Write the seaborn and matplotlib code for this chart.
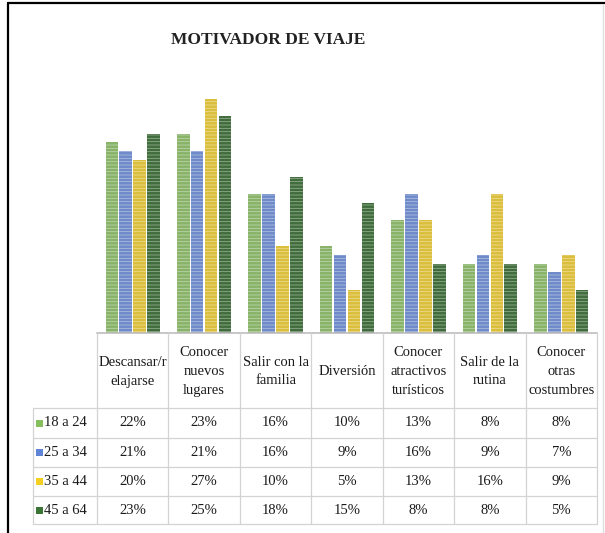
import numpy as np
import pandas as pd
import matplotlib
matplotlib.use("Agg")
import matplotlib.pyplot as plt
from matplotlib.patches import Rectangle
from matplotlib.lines import Line2D
import seaborn as sns

# ---- data ----
categories = ["Descansar/r\nelajarse", "Conocer\nnuevos\nlugares", "Salir con la\nfamilia",
              "Diversión", "Conocer\natractivos\nturísticos", "Salir de la\nrutina",
              "Conocer\notras\ncostumbres"]
groups = ["18 a 24", "25 a 34", "35 a 44", "45 a 64"]
v_18_24 = [22, 23, 16, 10, 13, 8, 8]
v_25_34 = [21, 21, 16, 9, 16, 9, 7]
v_35_44 = [20, 27, 10, 5, 13, 16, 9]
v_45_64 = [23, 25, 18, 15, 8, 8, 5]
series = [v_18_24, v_25_34, v_35_44, v_45_64]
colors = ["#86BF5C", "#5F84D8", "#F5CF22", "#3A7535"]
title = "MOTIVADOR DE VIAJE"

rows = []
for g, vals in zip(groups, series):
    for c, v in zip(categories, vals):
        rows.append({"cat": c, "grp": g, "val": v})
df = pd.DataFrame(rows)

sns.set_style("white")
plt.rcParams["font.family"] = ["Liberation Serif", "DejaVu Serif"]
plt.rcParams["hatch.linewidth"] = 0.55

W, H = 605, 533
fig = plt.figure(figsize=(W / 100, H / 100), dpi=100)

def fx(x):
    return x / W

def fy(y):
    return 1 - y / H

x0, x1 = 97, 597
ybase = 333
ytop = 73
ax = fig.add_axes([fx(x0), fy(ybase), fx(x1) - fx(x0), fy(ytop) - fy(ybase)])
sns.barplot(data=df, x="cat", y="val", hue="grp", palette=colors, order=categories,
            hue_order=groups, width=0.78, gap=0.1, ax=ax, legend=False,
            edgecolor=(1, 1, 1, 0.45), linewidth=0)
for p in ax.patches:
    p.set_hatch("-----")
ax.set_ylim(0, 30)
ax.set_xlim(-0.5, len(categories) - 0.5)
ax.set_xlabel("")
ax.set_ylabel("")
ax.set_xticks([])
ax.set_yticks([])
for s in ["top", "right", "left"]:
    ax.spines[s].set_visible(False)
ax.spines["bottom"].set_color("#BDBDBD")
ax.spines["bottom"].set_linewidth(1.2)

# ---- outer frame ----
fig.add_artist(Line2D([fx(8), fx(8)], [fy(3), fy(533)], color="black", lw=1.6))
fig.add_artist(Line2D([fx(8), fx(605)], [fy(3), fy(3)], color="black", lw=1.6))
fig.add_artist(Line2D([fx(603), fx(603)], [fy(5), fy(533)], color="#DDDDDD", lw=1))

# ---- title ----
fig.text(fx(268), fy(40), title, ha="center", va="center", fontsize=12.5,
         fontweight="bold", color="#222222")

# ---- data table ----
grid = "#D3D3D3"
ncol = len(categories)
cw = (x1 - x0) / ncol
yh = 408
row_lines = [408, 438, 467, 496, 524]
for k in range(ncol + 1):
    xx = x0 + k * cw
    fig.add_artist(Line2D([fx(xx), fx(xx)], [fy(ybase), fy(524)], color=grid, lw=0.9))
fig.add_artist(Line2D([fx(33), fx(33)], [fy(yh), fy(524)], color=grid, lw=0.9))
for yy in row_lines:
    fig.add_artist(Line2D([fx(33), fx(x1)], [fy(yy), fy(yy)], color=grid, lw=0.9))

for k, c in enumerate(categories):
    fig.text(fx(x0 + (k + 0.5) * cw), fy((ybase + yh) / 2 + 1), c, ha="center",
             va="center", fontsize=10.5, color="#1A1A1A", linespacing=1.6)

for r, (g, vals, col) in enumerate(zip(groups, series, colors)):
    yc = (row_lines[r] + row_lines[r + 1]) / 2
    fig.add_artist(Rectangle((fx(36), fy(yc + 3.5)), fx(7), fy(0) - fy(7),
                             facecolor=col, edgecolor="none"))
    fig.text(fx(44), fy(yc), g, ha="left", va="center", fontsize=10.5, color="#1A1A1A")
    for k, v in enumerate(vals):
        fig.text(fx(x0 + (k + 0.5) * cw), fy(yc), f"{v}%", ha="center", va="center",
                 fontsize=10.5, color="#1A1A1A")

fig.savefig("out.png", dpi=100, facecolor="white")
